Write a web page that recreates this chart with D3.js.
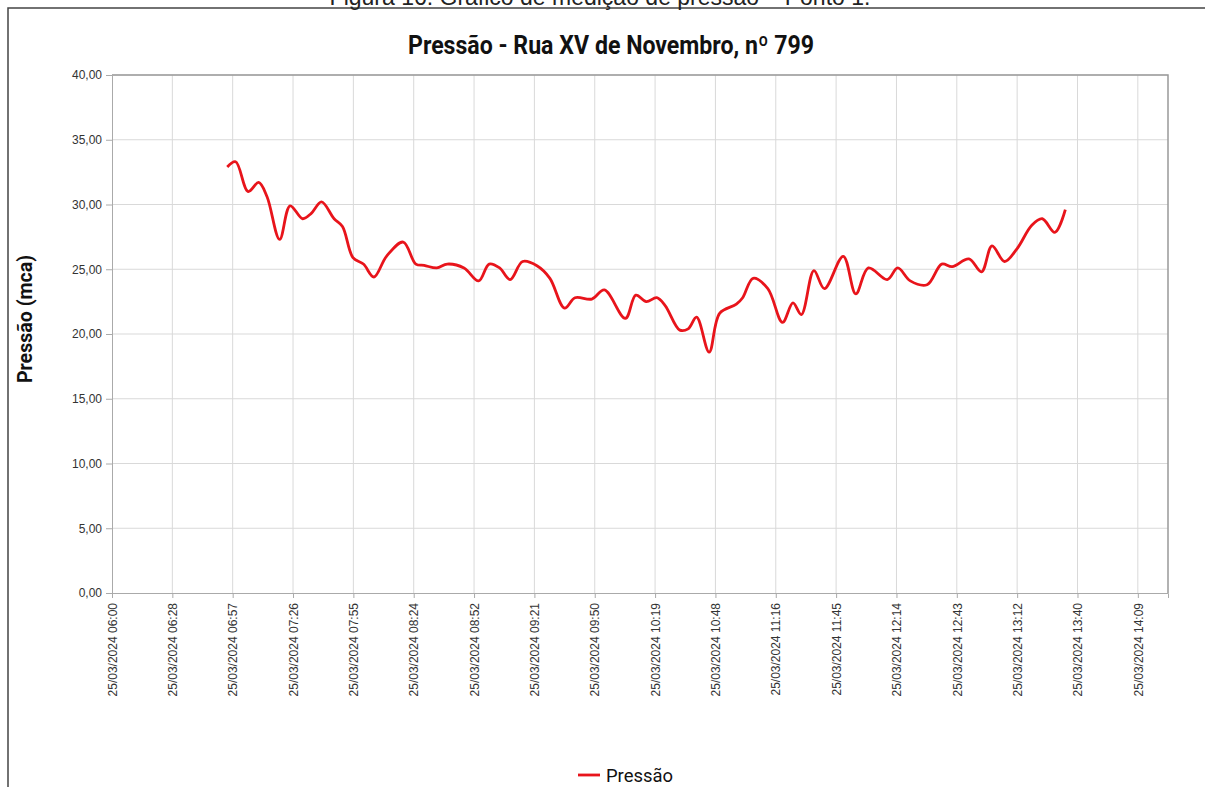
<!DOCTYPE html>
<html>
<head>
<meta charset="utf-8">
<script src="https://cdn.jsdelivr.net/npm/d3@7"></script>
<style>
    body { margin: 0; background: #fff; }
    .tick text { font-family: "Liberation Sans", Arial, sans-serif; font-size: 12px; fill: #333; }
    .grid line { stroke: #d9d9d9; stroke-width: 1px; }
</style>
</head>
<body>
<script>

    // measurement times (25/03/2024) and pressure readings (mca)
    const times = ["06:55","06:59","07:05","07:10","07:14","07:20","07:25","07:31","07:35","07:40",
                   "07:46","07:50","07:55","08:00","08:05","08:11","08:19","08:25","08:29","08:35",
                   "08:40","08:48","08:55","09:00","09:05","09:10","09:16","09:23","09:29","09:36",
                   "09:41","09:49","09:55","10:05","10:10","10:15","10:20","10:24","10:31","10:35",
                   "10:39","10:45","10:50","10:58","11:01","11:06","11:13","11:20","11:25","11:29",
                   "11:35","11:40","11:49","11:55","12:01","12:10","12:15","12:21","12:29","12:36",
                   "12:41","12:49","12:55","13:00","13:06","13:12","13:19","13:24","13:30","13:35"];
    const pressao = [32.9,33.3,31.0,31.7,30.6,27.3,29.9,28.9,29.3,30.2,
                     28.9,28.3,25.9,25.4,24.4,26.0,27.1,25.4,25.3,25.1,
                     25.4,25.1,24.1,25.4,25.1,24.2,25.6,25.25,24.3,22.0,
                     22.8,22.7,23.4,21.2,23.0,22.5,22.8,22.2,20.3,20.4,
                     21.3,18.6,21.6,22.3,22.8,24.3,23.5,20.9,22.4,21.5,
                     24.9,23.5,26.0,23.1,25.1,24.2,25.1,24.1,23.8,25.4,
                     25.2,25.8,24.8,26.8,25.6,26.6,28.4,28.9,27.85,29.6];

    const yTicks = [0, 5, 10, 15, 20, 25, 30, 35, 40];
    const tickStepMin = 28.8;   // x ticks every 0.02 day
    const tickCount = 18;

    const width = 1205, height = 787;
    const margin = {left: 112, right: 37, top: 75, bottom: 194};

    const day = "2024-03-25";
    const parse = d3.timeParse("%Y-%m-%d %H:%M");
    const t0 = parse(day + " 06:00");
    const t1 = parse(day + " 14:24");

    const data = times.map((t, i) => ({date: parse(day + " " + t), value: pressao[i]}));

    const svg = d3.select("body").append("svg")
        .attr("width", width)
        .attr("height", height);

    // outer frame (page figure border)
    svg.append("path")
        .attr("d", `M8,${height} L8,8 L${width},8`)
        .attr("fill", "none")
        .attr("stroke", "#444")
        .attr("stroke-width", 1.5);

    // figure caption, cut off at the top as in the scanned page
    svg.append("text")
        .attr("x", 600).attr("y", 5)
        .attr("text-anchor", "middle")
        .style("font-family", "'Liberation Sans', Arial, sans-serif")
        .style("font-size", "23px")
        .attr("fill", "#222")
        .text("Figura 16: Gráfico de medição de pressão – Ponto 1.");

    const x = d3.scaleTime().domain([t0, t1]).range([margin.left, width - margin.right]);
    const y = d3.scaleLinear().domain([0, 40]).range([height - margin.bottom, margin.top]);

    const xTickVals = d3.range(tickCount).map(i => new Date(t0.getTime() + i * tickStepMin * 60000));
    const fmt = d3.timeFormat("%d/%m/%Y %H:%M");

    // grid
    svg.append("g").attr("class", "grid")
        .selectAll("line").data(yTicks.slice(1)).join("line")
        .attr("x1", x.range()[0]).attr("x2", x.range()[1])
        .attr("y1", d => y(d)).attr("y2", d => y(d));
    svg.append("g").attr("class", "grid")
        .selectAll("line").data(xTickVals.slice(1)).join("line")
        .attr("x1", d => x(d)).attr("x2", d => x(d))
        .attr("y1", y.range()[0]).attr("y2", y.range()[1]);

    // plot border top/right
    svg.append("path")
        .attr("d", `M${x.range()[0]},${y(40)} H${x.range()[1]} V${y(0)}`)
        .attr("fill", "none").attr("stroke", "#999").attr("stroke-width", 1.5);

    // y axis
    const yAxis = svg.append("g")
        .attr("transform", `translate(${margin.left},0)`)
        .call(d3.axisLeft(y).tickValues(yTicks).tickSize(6).tickPadding(4)
            .tickFormat(d => d3.format(".2f")(d).replace(".", ",")));
    yAxis.selectAll("line, path").attr("stroke", "#aaa");

    // x axis
    const xAxis = svg.append("g")
        .attr("transform", `translate(0,${y(0)})`)
        .call(d3.axisBottom(x).tickValues(xTickVals).tickSize(5).tickFormat(fmt));
    xAxis.selectAll("line, path").attr("stroke", "#aaa");
    xAxis.selectAll("text")
        .attr("text-anchor", "end")
        .attr("transform", "rotate(-90)")
        .attr("x", -10).attr("y", 0).attr("dy", "0.35em");

    // series
    const line = d3.line()
        .x(d => x(d.date))
        .y(d => y(d.value))
        .curve(d3.curveCatmullRom.alpha(0.5));

    svg.append("path")
        .datum(data)
        .attr("fill", "none")
        .attr("stroke", "#e8141b")
        .attr("stroke-width", 2.8)
        .attr("stroke-linejoin", "round")
        .attr("d", line);

    // title
    svg.append("text")
        .attr("x", 611).attr("y", 54)
        .attr("text-anchor", "middle")
        .attr("textLength", 406).attr("lengthAdjust", "spacingAndGlyphs")
        .style("font-family", "'Liberation Sans Narrow', 'Roboto', sans-serif")
        .style("font-weight", "bold")
        .style("font-size", "25px")
        .attr("fill", "#111")
        .text("Pressão - Rua XV de Novembro, nº 799");

    // y label
    svg.append("text")
        .attr("transform", `translate(32,${(y(0) + y(40)) / 2 - 15}) rotate(-90)`)
        .attr("text-anchor", "middle")
        .attr("textLength", 128).attr("lengthAdjust", "spacingAndGlyphs")
        .style("font-family", "'Liberation Sans Narrow', 'Roboto', sans-serif")
        .style("font-weight", "bold")
        .style("font-size", "21px")
        .attr("fill", "#111")
        .text("Pressão (mca)");

    // legend
    const lg = svg.append("g").attr("transform", "translate(578,775)");
    lg.append("line").attr("x1", 0).attr("x2", 22).attr("y1", 0).attr("y2", 0)
        .attr("stroke", "#e8141b").attr("stroke-width", 2.8);
    lg.append("text")
        .attr("x", 28).attr("y", 7)
        .attr("textLength", 67).attr("lengthAdjust", "spacingAndGlyphs")
        .style("font-family", "'Liberation Sans Narrow', 'Roboto', sans-serif")
        .style("font-size", "19px")
        .attr("fill", "#111")
        .text("Pressão");

</script>
</body>
</html>
